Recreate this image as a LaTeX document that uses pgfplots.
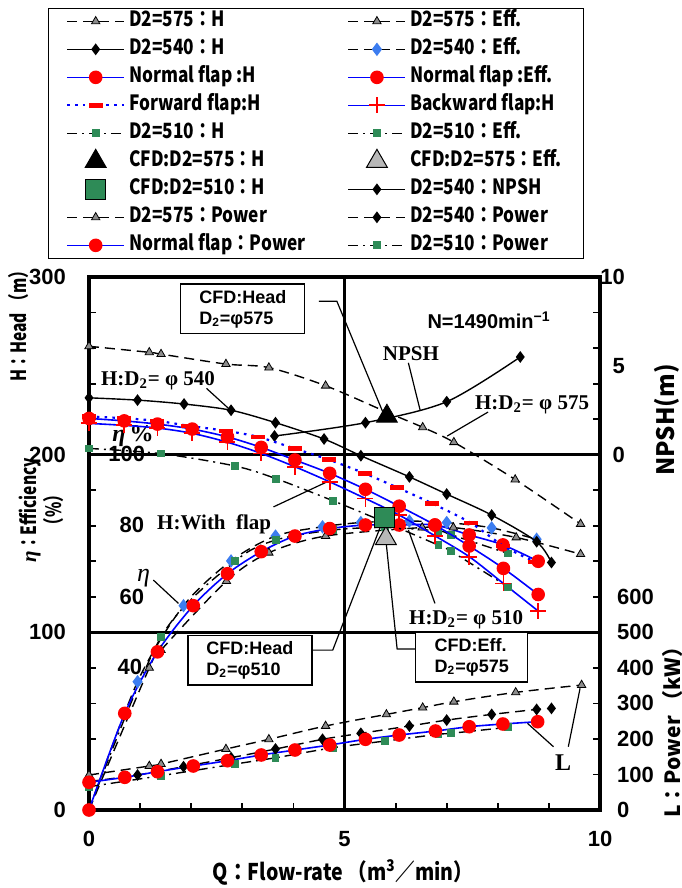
\documentclass[border=0pt]{standalone}
\usepackage{fontspec}
\setmainfont{Liberation Sans}
\newfontfamily\serif{Liberation Serif}
\newfontfamily\jp{Noto Sans CJK JP}
\newfontfamily\jpl{Noto Sans CJK JP}[FakeStretch=0.82]
\newfontfamily\jpn{Noto Sans CJK JP}[FakeStretch=0.74]
\newfontfamily\jpx{Noto Sans CJK JP}[FakeStretch=0.85]
\usepackage{pgfplots}
\pgfplotsset{compat=1.18}

\definecolor{sqgreen}{HTML}{2E8B57}
\definecolor{trigray}{HTML}{8C8C8C}
\definecolor{cfdgray}{HTML}{B8B8B8}
\definecolor{diablue}{HTML}{3C7DF0}

\tikzset{
  s575/.style={black, line width=0.7pt, dash pattern=on 5pt off 3pt, mark=triangle*, mark size=2.4pt, mark options={solid, fill=trigray, draw=black, line width=0.4pt}},
  s540/.style={black, line width=0.7pt, solid, mark=diamond*, mark size=2.4pt, mark options={solid, fill=black}},
  s540d/.style={black, line width=0.7pt, dash pattern=on 5pt off 3pt, mark=diamond*, mark size=2.4pt, mark options={solid, fill=black}},
  s540e/.style={black, line width=0.7pt, dash pattern=on 5pt off 3pt, mark=diamond*, mark size=2.8pt, mark options={solid, fill=diablue, draw=diablue}},
  snor/.style={blue, line width=0.8pt, solid, mark=*, mark size=3pt, mark options={solid, fill=red, draw=red}},
  sfwd/.style={blue, line width=1.1pt, dash pattern=on 1.3pt off 2.6pt, mark=-, mark size=3.5pt, mark options={solid, draw=red, line width=2.2pt}},
  sbwd/.style={blue, line width=0.8pt, solid, mark=+, mark size=4pt, mark options={solid, draw=red, line width=0.9pt}},
  s510/.style={black, line width=0.7pt, dash pattern=on 5pt off 2.5pt on 1pt off 2.5pt, mark=square*, mark size=1.6pt, mark options={solid, fill=sqgreen, draw=sqgreen}},
  cfdA/.style={only marks, mark=triangle*, mark size=6pt, mark options={fill=black, draw=black}},
  cfdB/.style={only marks, mark=triangle*, mark size=6pt, mark options={fill=cfdgray, draw=black, line width=0.5pt}},
  cfdC/.style={only marks, mark=square*, mark size=5pt, mark options={fill=sqgreen, draw=black, line width=0.6pt}},
  lead/.style={black, line width=0.6pt},
  ann/.style={font=\serif\bfseries\fontsize{10.5}{12}\selectfont, inner sep=0pt},
  cbox/.style={draw=black, fill=white, line width=0.6pt, align=left, font=\bfseries\fontsize{9}{10.5}\selectfont, inner xsep=6pt, inner ysep=3pt, minimum height=24pt},
}
\newcommand{\tfont}{\bfseries\fontsize{11}{11}\selectfont}
\pgfplotsset{base/.style={at={(0pt,0pt)}, anchor=south west, scale only axis,
  width=255.5pt, height=266.5pt, xmin=0, xmax=10, clip=false}}

\begin{document}
\begin{tikzpicture}
\path[use as bounding box] (-44.5pt,-39pt) rectangle (296pt,405pt);

% frame, grid, legend, labels
\begin{axis}[base, ymin=0, ymax=300,
  axis line style={line width=1.6pt},
  tick align=inside, major tick length=3.5pt, tick style={black, line width=0.9pt},
  xtick={0,1,...,10}, xticklabels={0,,,,,5,,,,,10}, xtick pos=bottom,
  ytick={0,20,...,300}, yticklabels={0,,,,,100,,,,,200,,,,,300},
  ytick pos=both, yticklabel pos=left,
  ticklabel style={font=\tfont},
  xticklabel style={yshift=-7pt}, yticklabel style={xshift=-8pt},
  legend columns=2, legend cell align=left,
  legend image code/.code={\draw[mark repeat=2,mark phase=2,#1] plot coordinates {(0cm,0cm) (0.5cm,0cm) (1cm,0cm)};},
  legend style={at={(0.444,1.505)}, anchor=north, draw=black, line width=0.5pt,
    inner xsep=9pt, inner ysep=0pt, font=\jpl\bfseries\fontsize{10.5}{11}\selectfont,
    nodes={inner ysep=1pt, text height=8pt, text depth=3pt}, row sep=1pt,
    /tikz/every even column/.append style={column sep=19pt}},
]
\draw[line width=1.4pt] (axis cs:5,0) -- (axis cs:5,300);
\draw[line width=1.4pt] (axis cs:0,100) -- (axis cs:10,100);
\draw[line width=1.4pt] (axis cs:0,200) -- (axis cs:10,200);

\addlegendimage{s575}\addlegendentry{D2=575：H}
\addlegendimage{s575}\addlegendentry{D2=575：Eff.}
\addlegendimage{s540}\addlegendentry{D2=540：H}
\addlegendimage{s540e}\addlegendentry{D2=540：Eff.}
\addlegendimage{snor}\addlegendentry{Normal flap :H}
\addlegendimage{snor}\addlegendentry{Normal flap :Eff.}
\addlegendimage{sfwd}\addlegendentry{Forward flap:H}
\addlegendimage{sbwd}\addlegendentry{Backward flap:H}
\addlegendimage{s510}\addlegendentry{D2=510：H}
\addlegendimage{s510}\addlegendentry{D2=510：Eff.}
\addlegendimage{cfdA}\addlegendentry{CFD:D2=575：H}
\addlegendimage{cfdB}\addlegendentry{CFD:D2=575：Eff.}
\addlegendimage{cfdC}\addlegendentry{CFD:D2=510：H}
\addlegendimage{s540}\addlegendentry{D2=540：NPSH}
\addlegendimage{s575}\addlegendentry{D2=575：Power}
\addlegendimage{s540d}\addlegendentry{D2=540：Power}
\addlegendimage{snor}\addlegendentry{Normal flap：Power}
\addlegendimage{s510}\addlegendentry{D2=510：Power}

% axis titles
\node[rotate=90, font=\jpn\bfseries\fontsize{10.5}{12}\selectfont] at (axis cs:-1.37,274.6) {H：Head （m）};
\node[rotate=90, align=center, font=\jpn\bfseries\fontsize{10.5}{12.5}\selectfont] at (axis cs:-0.94,168.8) {{\serif\itshape η}：Efficiency\\（\%）};
\node[rotate=90, font=\jp\bfseries\fontsize{12}{14}\selectfont] at (axis cs:11.31,219.5) {NPSH(m)};
\node[rotate=90, font=\jp\bfseries\fontsize{10.5}{12}\selectfont] at (axis cs:11.41,46.7) {L：Power （kW）};
\node[font=\jpx\bfseries\fontsize{11.5}{12}\selectfont] at (axis cs:4.97,-35) {Q：Flow-rate （m\textsuperscript{3}／min）};

% efficiency scale inside the plot
\node[font=\tfont] at (axis cs:0.74,200.3) {100};
\node[font=\tfont] at (axis cs:0.84,160.4) {80};
\node[font=\tfont] at (axis cs:0.84,119.9) {60};
\node[font=\tfont] at (axis cs:0.80,80.5) {40};
\node[font=\serif\bfseries\fontsize{12}{12}\selectfont] at (axis cs:0.86,210.5) {{\itshape η}\,\%};

% notes
\node[font=\bfseries\fontsize{10}{12}\selectfont] at (axis cs:7.83,275.7) {N=1490min\textsuperscript{−1}};
\node[ann] at (axis cs:6.3,256.6) {NPSH};
\draw[lead] (axis cs:6.25,251.7) -- (axis cs:6.48,225);
\node[ann] at (axis cs:8.67,228) {H:D\textsubscript{2}= φ 575};
\draw[lead] (axis cs:7.81,224) -- (axis cs:7.01,210.5);
\node[ann] at (axis cs:1.35,241.7) {H:D\textsubscript{2}= φ 540};
\draw[lead] (axis cs:2.30,237.3) -- (axis cs:2.77,225);
\node[ann] at (axis cs:2.45,161) {H:With\ \ flap};
\draw[lead] (axis cs:3.61,170.6) -- (axis cs:4.65,184.6);
\node[font=\serif\itshape\fontsize{13}{14}\selectfont] at (axis cs:1.07,130.5) {η};
\draw[lead] (axis cs:1.26,129.4) -- (axis cs:1.75,116.3);
\node[ann] at (axis cs:7.38,107) {H:D\textsubscript{2}= φ 510};
\draw[lead] (axis cs:6.77,116.3) -- (axis cs:6.25,157.6);
\node[ann, font=\serif\bfseries\fontsize{12}{12}\selectfont] at (axis cs:9.28,26.4) {L};
\draw[lead] (axis cs:9.09,35.6) -- (axis cs:8.58,48.8);
\draw[lead] (axis cs:9.38,35.6) -- (axis cs:9.61,68.5);

\node[cbox, minimum width=62pt] at (axis cs:3.01,282) {CFD:Head\\D\textsubscript{2}=φ575};
\draw[lead] (axis cs:4.5,286.4) -- (axis cs:4.85,286.4) -- (axis cs:5.75,224);
\node[cbox, minimum width=62pt] at (axis cs:3.15,84.4) {CFD:Head\\D\textsubscript{2}=φ510};
\draw[lead] (axis cs:4.36,90) -- (axis cs:4.77,90) -- (axis cs:5.73,161.5);
\node[cbox, minimum width=56pt] at (axis cs:7.49,86) {CFD:Eff.\\D\textsubscript{2}=φ575};
\draw[lead] (axis cs:6.38,90.6) -- (axis cs:6.03,90.6) -- (axis cs:5.81,152);
\end{axis}

% efficiency (%)
\begin{axis}[base, ymin=0, ymax=150, hide axis]
\addplot[s575, smooth] coordinates {(0,0) (1.18,40) (1.41,45) (2.69,64.4) (3.52,72.4) (4.63,77.1) (6.52,79.5) (7.13,79.5) (8.36,76.7) (9.62,72)};
\addplot[s540e, smooth] coordinates {(0,0) (0.95,36.1) (1.85,57.5) (2.78,70.1) (3.65,77.1) (4.57,79.7) (5.32,80.9) (6.27,81.3) (7.0,80.9) (7.88,79.4) (8.76,76.2)};
\addplot[s510, smooth] coordinates {(0,0) (1.41,48.7) (2.86,70) (3.66,76) (4.78,78.8) (5.79,79.5) (6.84,78.5) (7.08,77.5) (8.2,72.2)};
\addplot[snor, smooth] coordinates {(0,0) (0.7,27.2) (1.34,44.5) (2.04,57.5) (2.71,66.5) (3.37,72.7) (4.03,77.1) (4.71,79.2) (5.41,80.2) (6.07,80.2) (6.77,80.2) (7.44,77.4) (8.1,74.6) (8.79,70)};
\addplot[cfdB] coordinates {(5.81,76.4)};
\end{axis}

% NPSH (m)
\begin{axis}[base, ymin=-20, ymax=10, axis x line=none, axis y line*=right,
  axis line style={draw=none}, major tick length=0pt,
  ytick={0,5,10}, yticklabels={0,5,10},
  yticklabel style={anchor=east, xshift=16pt, font=\tfont}]
\addplot[s540, smooth] coordinates {(3.63,1.05) (5.41,1.8) (7.0,2.98) (8.44,5.5)};
\end{axis}

% power (kW)
\begin{axis}[base, ymin=0, ymax=1500, axis x line=none, axis y line*=right,
  axis line style={draw=none}, major tick length=0pt,
  ytick={0,100,...,600}, yticklabels={0,100,200,300,400,500,600},
  yticklabel style={xshift=5pt, font=\tfont}]
\addplot[s575, smooth] coordinates {(0,98.5) (1.18,123.8) (1.41,129.4) (2.68,171.6) (3.52,198.9) (4.63,236.4) (5.82,269) (6.53,288) (7.14,304.7) (8.35,331) (9.64,351.7)};
\addplot[s540d, smooth] coordinates {(0,80) (0.95,98.5) (1.85,121.9) (2.78,147.2) (3.65,171.6) (4.57,198.9) (5.32,215.8) (6.27,236.4) (7.0,253) (7.88,269) (8.76,283) (9.05,286)};
\addplot[s510, smooth] coordinates {(0,65.6) (1.41,96.6) (2.86,129.4) (3.65,147) (4.78,175.4) (5.79,194) (6.84,213) (7.08,215.8) (8.2,232.7)};
\addplot[snor, smooth] coordinates {(0,78) (0.7,92) (1.34,107.8) (2.04,123.8) (2.71,138.7) (3.37,154.8) (4.03,168.8) (4.71,182.9) (5.41,198.9) (6.07,211) (6.78,222.3) (7.44,234.4) (8.1,242) (8.78,248.5)};
\end{axis}

% head (m)
\begin{axis}[base, ymin=0, ymax=300, hide axis]
\addplot[s575, smooth] coordinates {(0,261) (1.18,257.6) (1.41,256.6) (2.68,251) (3.52,249) (4.63,238.8) (5.82,224) (6.53,215.4) (7.14,207) (8.34,186) (9.62,161)};
\addplot[s540, smooth] coordinates {(0,232) (0.95,230.7) (1.86,228.5) (2.78,225) (3.65,218) (4.6,208.8) (5.32,199.4) (6.27,187.5) (7.0,177.8) (7.88,166) (8.76,151) (9.05,139.3)};
\addplot[s510, smooth] coordinates {(0,203.5) (1.41,200.6) (2.86,193.6) (3.66,186.5) (4.78,174) (5.79,162) (6.84,149) (7.08,145.7) (8.2,125.6)};
\addplot[sbwd, smooth] coordinates {(0,217.6) (0.69,216.5) (1.34,215) (2.02,212) (2.71,207) (3.37,200.7) (4.03,193.2) (4.71,184.7) (5.41,175.3) (6.07,166) (6.77,154.3) (7.44,142.6) (8.11,127.5) (8.79,112)};
\addplot[snor, smooth] coordinates {(0,220.4) (0.69,219) (1.34,217.2) (2.02,214.4) (2.71,210) (3.37,204.1) (4.03,197) (4.71,189.5) (5.41,180.5) (6.07,171) (6.77,160.4) (7.44,148.6) (8.11,136) (8.79,121.3)};
\addplot[sfwd, smooth] coordinates {(0,221.5) (0.69,220.5) (1.34,219) (1.94,216.3) (2.68,213.4) (3.31,210) (4.03,203.4) (4.69,197.2) (5.4,189.4) (6.03,181.5) (6.72,172.5) (7.47,161.6) (8.11,148.6) (8.73,139.6)};
\addplot[cfdA] coordinates {(5.83,221.7)};
\addplot[cfdC] coordinates {(5.79,164.5)};
\end{axis}
\end{tikzpicture}
\end{document}
